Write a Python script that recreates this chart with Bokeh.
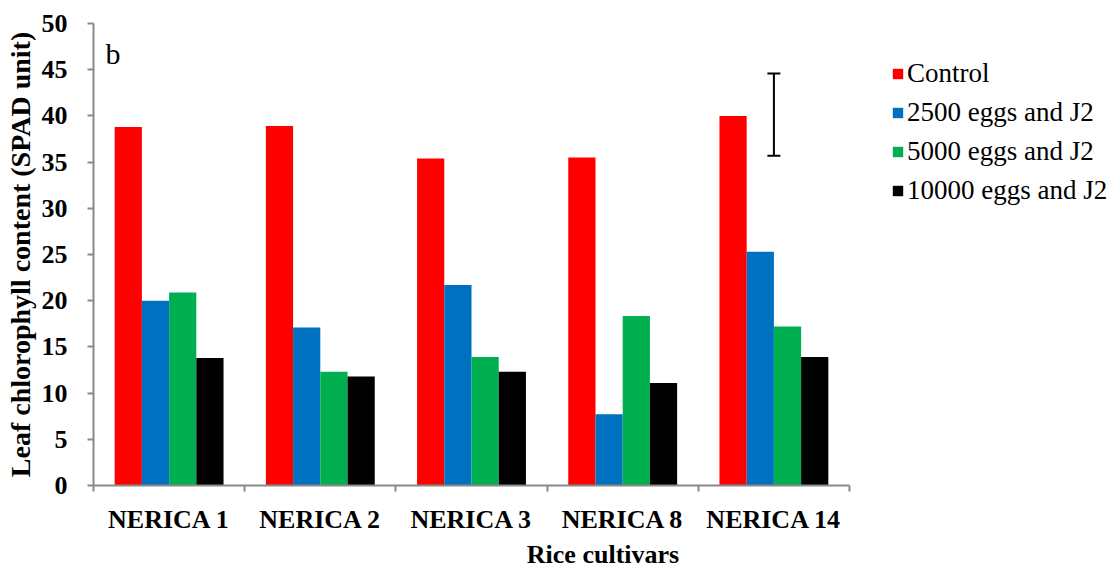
from bokeh.plotting import figure
from bokeh.models import (ColumnDataSource, FixedTicker, Legend, LegendItem, Label,
                          Whisker, TeeHead, Range1d)
from bokeh.embed import file_html
from bokeh.resources import INLINE

cultivars = ["NERICA 1", "NERICA 2", "NERICA 3", "NERICA 8", "NERICA 14"]
series_names = ["Control", "2500 eggs and J2", "5000 eggs and J2", "10000 eggs and J2"]
control = [38.8, 38.9, 35.4, 35.5, 40.0]
eggs_2500 = [20.0, 17.1, 21.7, 7.7, 25.3]
eggs_5000 = [20.9, 12.3, 13.9, 18.35, 17.2]
eggs_10000 = [13.8, 11.8, 12.3, 11.1, 13.9]
series_values = [control, eggs_2500, eggs_5000, eggs_10000]
colors = ["#FF0000", "#0070C0", "#00B050", "#000000"]
y_ticks = list(range(0, 55, 5))

# LSD bar (over NERICA 14)
lsd_cultivar = 4
lsd_low = 35.7
lsd_high = 44.6

FONT = "Liberation Serif"
AXIS_COLOR = "#898989"

W, H = 1112, 571
LEFT, TOP, BOTTOM = 93, 23, 83
AXIS_PX = 756  # pixel length of the category axis
frame_w = W - LEFT
n = len(cultivars)
x_end = n * frame_w / AXIS_PX  # extra room on the right holds the legend

p = figure(width=W, height=H, output_backend="svg", toolbar_location=None,
           x_range=Range1d(0, x_end), y_range=Range1d(0, 50),
           min_border_left=LEFT, min_border_right=0, min_border_top=TOP,
           min_border_bottom=BOTTOM)
p.outline_line_color = None
p.xgrid.visible = False
p.ygrid.visible = False
p.background_fill_color = "white"

bar_w = 0.18
offsets = [-0.27, -0.09, 0.09, 0.27]
renderers = []
for vals, off, col in zip(series_values, offsets, colors):
    src = ColumnDataSource(dict(x=[i + 0.5 + off for i in range(n)], top=vals))
    r = p.vbar(x="x", top="top", bottom=0, width=bar_w, source=src,
               fill_color=col, line_color=None)
    renderers.append(r)

# LSD error bar
wsrc = ColumnDataSource(dict(x=[lsd_cultivar + 0.5], lo=[lsd_low], hi=[lsd_high]))
w = Whisker(source=wsrc, base="x", lower="lo", upper="hi", dimension="height",
            line_color="black", line_width=2,
            lower_head=TeeHead(size=13, line_color="black", line_width=2),
            upper_head=TeeHead(size=13, line_color="black", line_width=2))
p.add_layout(w)

# panel label
p.add_layout(Label(x=0.08, y=46.8, text="b", text_font=FONT, text_font_size="30px",
                   text_color="black", text_baseline="alphabetic"))

# x axis
xa = p.xaxis[0]
xa.bounds = (0, n)
xa.ticker = FixedTicker(ticks=[i + 0.5 for i in range(n)],
                        minor_ticks=list(range(n + 1)))
xa.major_label_overrides = {i + 0.5: c for i, c in enumerate(cultivars)}
xa.major_tick_line_color = None
xa.major_tick_out = 6
xa.minor_tick_out = 6
xa.minor_tick_in = 0
xa.minor_tick_line_color = AXIS_COLOR
xa.minor_tick_line_width = 2
xa.axis_line_color = AXIS_COLOR
xa.axis_line_width = 2
xa.major_label_text_font = FONT
xa.major_label_text_font_style = "bold"
xa.major_label_text_font_size = "26px"
xa.major_label_text_color = "black"
xa.major_label_standoff = 13
xa.axis_label = "Rice cultivars"
xa.axis_label_text_font = FONT
xa.axis_label_text_font_style = "bold"
xa.axis_label_text_font_size = "26px"
xa.axis_label_text_color = "black"
xa.axis_label_standoff = 3

# y axis
ya = p.yaxis[0]
ya.ticker = FixedTicker(ticks=y_ticks)
ya.major_tick_out = 6
ya.major_tick_in = 0
ya.major_tick_line_color = AXIS_COLOR
ya.major_tick_line_width = 2
ya.minor_tick_line_color = None
ya.axis_line_color = AXIS_COLOR
ya.axis_line_width = 2
ya.major_label_text_font = FONT
ya.major_label_text_font_style = "bold"
ya.major_label_text_font_size = "26px"
ya.major_label_text_color = "black"
ya.major_label_standoff = 20
ya.axis_label = "Leaf chlorophyll content (SPAD unit)"
ya.axis_label_text_font = FONT
ya.axis_label_text_font_style = "bold"
ya.axis_label_text_font_size = "28px"
ya.axis_label_text_color = "black"
ya.axis_label_standoff = 3

legend = Legend(items=[LegendItem(label=s, renderers=[r]) for s, r in zip(series_names, renderers)],
                location=(798, 279))
legend.margin = 0
legend.padding = 0
legend.border_line_color = None
legend.background_fill_alpha = 0
legend.glyph_width = 13
legend.glyph_height = 13
legend.label_height = 28
legend.spacing = 8
legend.label_standoff = 3
legend.label_text_font = FONT
legend.label_text_font_size = "27px"
legend.label_text_color = "black"
p.add_layout(legend, "center")

open("out.html", "w").write(file_html(p, INLINE))
